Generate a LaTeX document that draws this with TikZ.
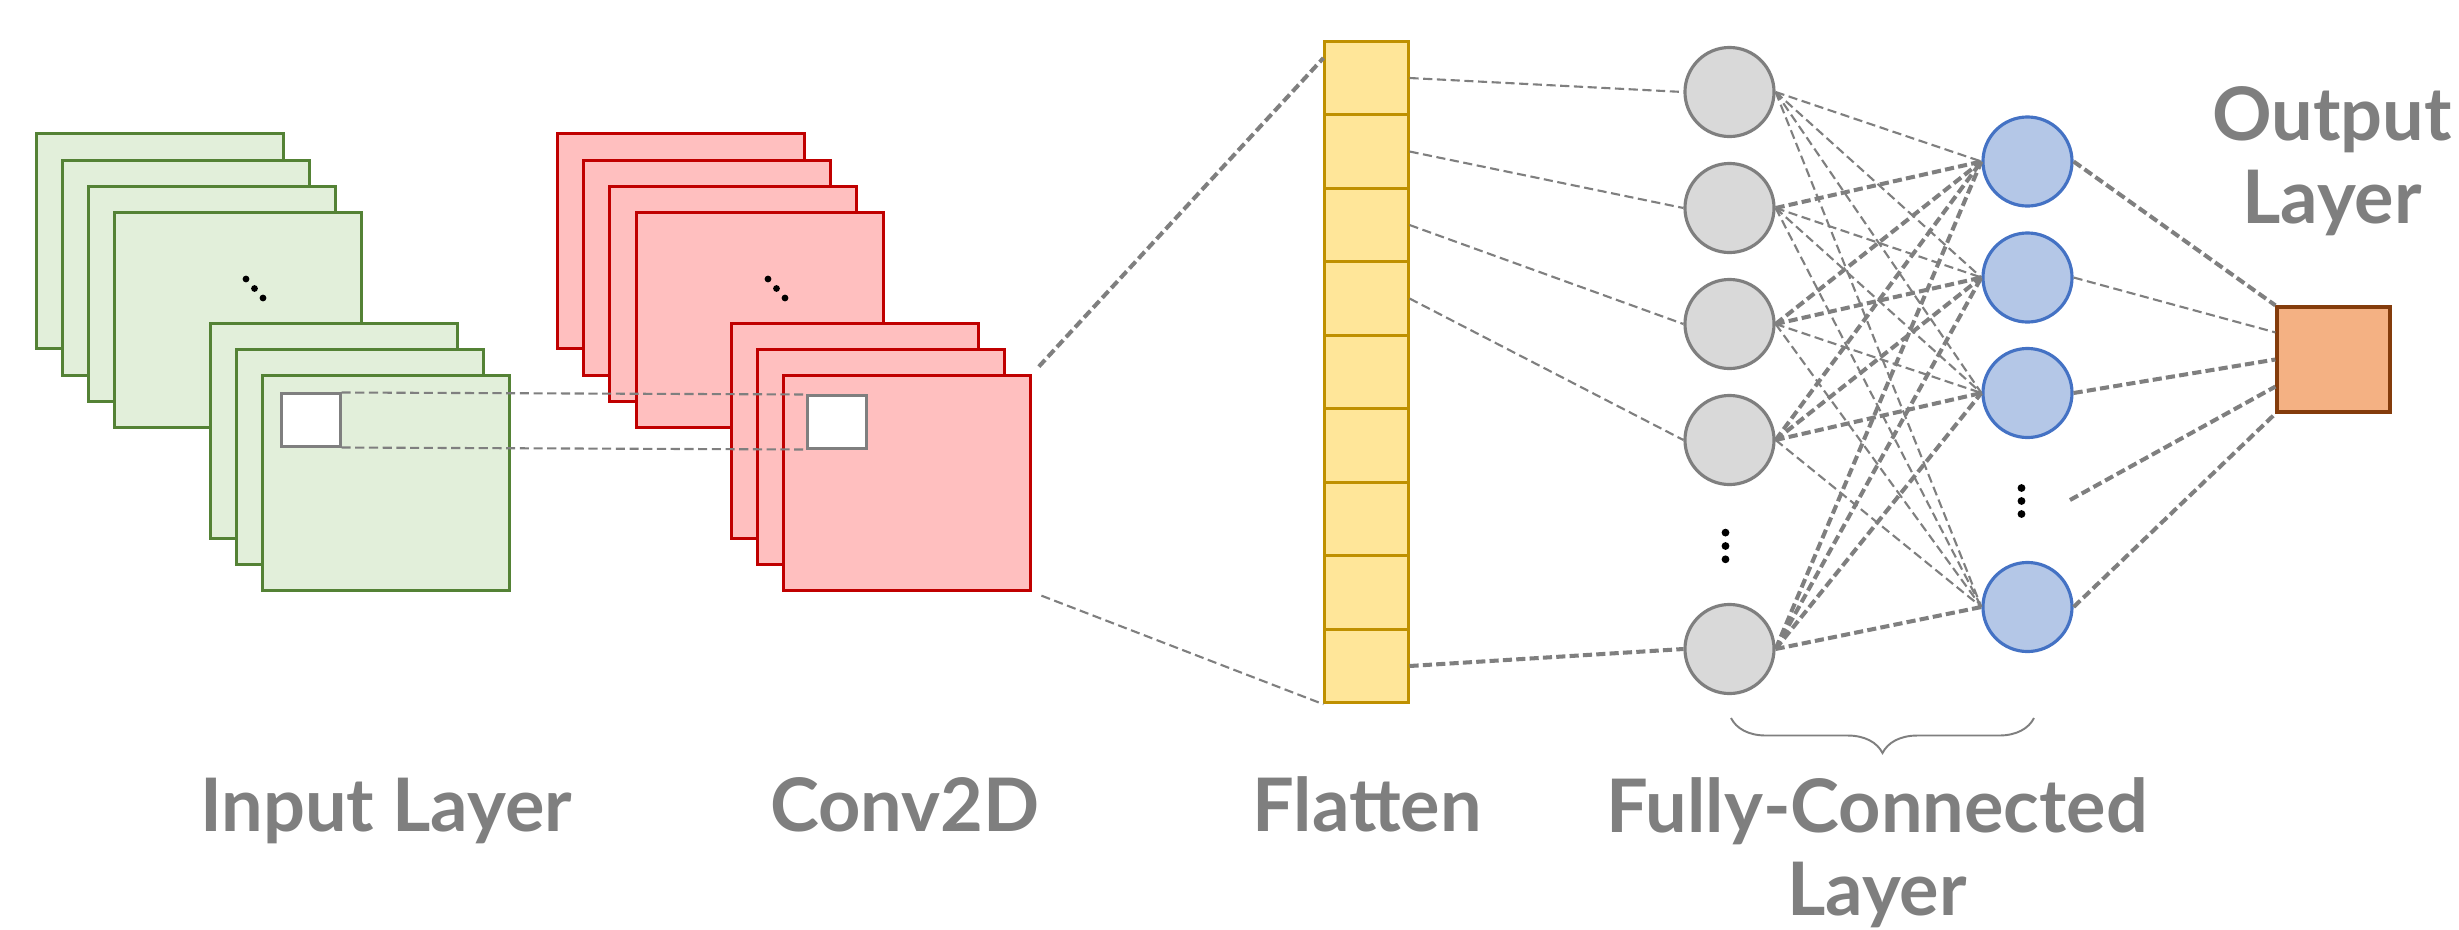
\documentclass[tikz,border=0pt]{standalone}
\usepackage{fontspec}
\setsansfont{Lato}
\usepackage{tikz}
\usetikzlibrary{decorations.pathreplacing}

\definecolor{linegray}{HTML}{7F7F7F}
\definecolor{ingreen}{HTML}{548235}
\definecolor{infill}{HTML}{E2EFDA}
\definecolor{convred}{HTML}{C00000}
\definecolor{convfill}{HTML}{FFBFBF}
\definecolor{flatgold}{HTML}{BF9000}
\definecolor{flatfill}{HTML}{FFE699}
\definecolor{fcfill}{HTML}{D9D9D9}
\definecolor{hidblue}{HTML}{4472C4}
\definecolor{hidfill}{HTML}{B4C7E7}
\definecolor{outbrown}{HTML}{843C0C}
\definecolor{outfill}{HTML}{F4B183}

\begin{document}
\begin{tikzpicture}[x=0.01cm, y=-0.01cm,
        in_map_style/.style={rectangle,draw=ingreen,fill=infill,line width=0.85pt,inner sep=0,minimum width=2.47cm,minimum height=2.15cm},
        conv_map_style/.style={rectangle,draw=convred,fill=convfill,line width=0.85pt,inner sep=0,minimum width=2.47cm,minimum height=2.15cm},
        window_style/.style={rectangle,draw=linegray,fill=white,line width=0.85pt,inner sep=0,minimum width=0.58cm,minimum height=0.52cm},
        cell_style/.style={rectangle,draw=flatgold,fill=flatfill,line width=0.85pt,inner sep=0,minimum width=0.83cm,minimum height=0.735cm},
        fc_node_style/.style={circle,draw=linegray,fill=fcfill,line width=0.9pt,inner sep=0,minimum size=0.89cm},
        hid_node_style/.style={circle,draw=hidblue,fill=hidfill,line width=0.9pt,inner sep=0,minimum size=0.89cm},
        out_node_style/.style={rectangle,draw=outbrown,fill=outfill,line width=0.9pt,inner sep=0,minimum width=1.13cm,minimum height=1.05cm},
        dot_style/.style={fill=black},
        thin_edge/.style={draw=linegray,line width=0.6pt,dash pattern=on 2.6pt off 1.3pt},
        thick_edge/.style={draw=linegray,line width=1.15pt,dash pattern=on 2.6pt off 1.2pt},
        brace_style/.style={draw=linegray,line width=0.55pt,decorate,decoration={brace,amplitude=0.35cm}},
        label_style/.style={font=\sffamily\bfseries\fontsize{21}{23.6}\selectfont,text=linegray,align=center}]

        \useasboundingbox (0,0) rectangle (2459,930);

        % input feature maps
        \node [in_map_style] (in1) at (160,241) {};
        \node [in_map_style] (in2) at (186,268) {};
        \node [in_map_style] (in3) at (212,294) {};
        \node [in_map_style] (in4) at (238,320) {};
        \node [in_map_style] (in5) at (334,431) {};
        \node [in_map_style] (in6) at (360,457) {};
        \node [in_map_style] (in7) at (386,483) {};
        \node [window_style] (gsq) at (311,420) {};

        % conv2d feature maps
        \node [conv_map_style] (cv1) at (681,241) {};
        \node [conv_map_style] (cv2) at (707,268) {};
        \node [conv_map_style] (cv3) at (733,294) {};
        \node [conv_map_style] (cv4) at (760,320) {};
        \node [conv_map_style] (cv5) at (855,431) {};
        \node [conv_map_style] (cv6) at (881,457) {};
        \node [conv_map_style] (cv7) at (907,483) {};
        \node [window_style] (rsq) at (837,422) {};

        \fill [dot_style] (246,279) circle [radius=0.034cm] (254.5,288.5) circle [radius=0.034cm] (263,298) circle [radius=0.034cm];
        \fill [dot_style] (768,279) circle [radius=0.034cm] (776.5,288.5) circle [radius=0.034cm] (785,298) circle [radius=0.034cm];

        % flatten
        \node [cell_style] (fl1) at (1366.5,78) {};
        \node [cell_style] (fl2) at (1366.5,151.5) {};
        \node [cell_style] (fl3) at (1366.5,225) {};
        \node [cell_style] (fl4) at (1366.5,298.5) {};
        \node [cell_style] (fl5) at (1366.5,372) {};
        \node [cell_style] (fl6) at (1366.5,445.5) {};
        \node [cell_style] (fl7) at (1366.5,519) {};
        \node [cell_style] (fl8) at (1366.5,592.5) {};
        \node [cell_style] (fl9) at (1366.5,666) {};

        % fully-connected layer
        \node [fc_node_style] (g1) at (1729.5,92) {};
        \node [fc_node_style] (g2) at (1729.5,208) {};
        \node [fc_node_style] (g3) at (1729.5,324) {};
        \node [fc_node_style] (g4) at (1729.5,440) {};
        \node [fc_node_style] (g5) at (1729.5,649) {};
        \node [hid_node_style] (b1) at (2027.5,161.5) {};
        \node [hid_node_style] (b2) at (2027.5,277.5) {};
        \node [hid_node_style] (b3) at (2027.5,393) {};
        \node [hid_node_style] (b4) at (2027.5,607) {};
        \fill [dot_style] (1725.5,532.6) circle [radius=0.039cm] (1725.5,546) circle [radius=0.039cm] (1725.5,559.3) circle [radius=0.039cm];
        \fill [dot_style] (2021.5,488) circle [radius=0.039cm] (2021.5,501) circle [radius=0.039cm] (2021.5,514) circle [radius=0.039cm];
        \coordinate (bdots) at (2070,500);

        % output
        \node [out_node_style] (out) at (2333.5,359.5) {};

        \draw [thin_edge] (gsq.north east) -- (rsq.north west);
        \draw [thin_edge] (gsq.south east) -- (rsq.south west);

        \draw [thick_edge, shorten <=0.1cm] (cv7.north east) -- (fl1.155);
        \draw [thin_edge, shorten <=0.1cm] (cv7.south east) -- (fl9.south west);

        \draw [thin_edge] (fl1.east) -- (g1.west);
        \draw [thin_edge] (fl2.east) -- (g2.west);
        \draw [thin_edge] (fl3.east) -- (g3.west);
        \draw [thin_edge] (fl4.east) -- (g4.west);
        \draw [thick_edge] (fl9.east) -- (g5.west);

        \draw [thin_edge] (g1.east) -- (b1.west);
        \draw [thin_edge] (g1.east) -- (b2.west);
        \draw [thin_edge] (g1.east) -- (b3.west);
        \draw [thin_edge] (g1.east) -- (b4.west);
        \draw [thick_edge] (g2.east) -- (b1.west);
        \draw [thin_edge] (g2.east) -- (b2.west);
        \draw [thin_edge] (g2.east) -- (b3.west);
        \draw [thin_edge] (g2.east) -- (b4.west);
        \draw [thick_edge] (g3.east) -- (b1.west);
        \draw [thick_edge] (g3.east) -- (b2.west);
        \draw [thin_edge] (g3.east) -- (b3.west);
        \draw [thin_edge] (g3.east) -- (b4.west);
        \draw [thick_edge] (g4.east) -- (b1.west);
        \draw [thick_edge] (g4.east) -- (b2.west);
        \draw [thick_edge] (g4.east) -- (b3.west);
        \draw [thin_edge] (g4.east) -- (b4.west);
        \draw [thick_edge] (g5.east) -- (b1.west);
        \draw [thick_edge] (g5.east) -- (b2.west);
        \draw [thick_edge] (g5.east) -- (b3.west);
        \draw [thick_edge] (g5.east) -- (b4.west);

        \draw [thick_edge] (b1.east) -- (out.north west);
        \draw [thin_edge] (b2.east) -- (out.155);
        \draw [thick_edge] (b3.east) -- (out.west);
        \draw [thick_edge] (bdots) -- (out.205);
        \draw [thick_edge] (b4.east) -- (out.south west);

        \draw [brace_style] (2034,718) -- (1731,718);

        % labels
        \node [label_style, anchor=base] (lbl_in) at (386,831) {Input Layer};
        \node [label_style, anchor=base] (lbl_conv) at (905,831) {Conv2D};
        \node [label_style, anchor=base] (lbl_flat) at (1367,831) {Flatten};
        \node [label_style, anchor=base] (lbl_fc) at (1877,915) {Fully-Connected\\Layer};
        \node [label_style, anchor=base] (lbl_out) at (2332,223) {Output\\Layer};

\end{tikzpicture}
\end{document}
